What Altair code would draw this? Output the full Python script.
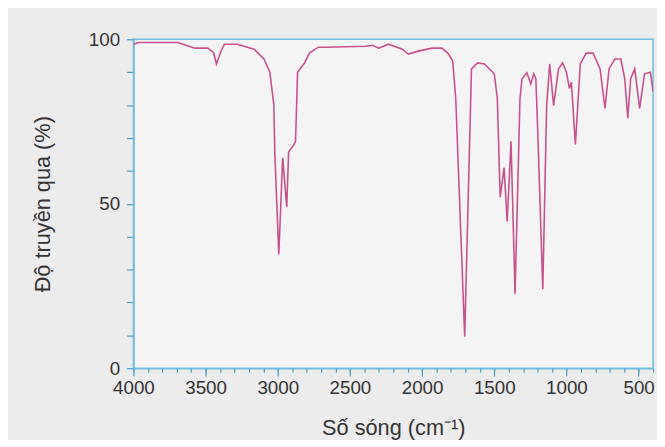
import altair as alt
import pandas as pd

# Wavenumber (cm-1) and transmittance (%)
wavenumber = [4000, 3966, 3692, 3575, 3486, 3445, 3425, 3397, 3370, 3281, 3164, 3096,
              3055, 3027, 3021, 2993, 2966, 2938, 2925, 2890, 2877, 2863, 2815, 2781,
              2719, 2664, 2390, 2342, 2301, 2233, 2137, 2096, 2027, 1932, 1863, 1822,
              1788, 1767, 1705, 1658, 1616, 1568, 1500, 1479, 1459, 1432, 1411, 1397,
              1384, 1356, 1322, 1308, 1274, 1247, 1226, 1212, 1199, 1164, 1137, 1116,
              1089, 1055, 1027, 1000, 979, 966, 938, 904, 863, 815, 767, 733, 705, 664,
              623, 596, 575, 555, 527, 493, 459, 418, 400]
transmittance = [98.5, 99.0, 99.0, 97.3, 97.3, 96.0, 92.5, 96.0, 98.5, 98.5, 97.0, 94.0,
                 90.0, 80.0, 66.0, 34.6, 64.0, 49.0, 65.7, 67.8, 69.0, 90.0, 92.8, 95.8,
                 97.6, 97.6, 97.9, 98.2, 97.3, 98.5, 97.0, 95.5, 96.4, 97.3, 97.3, 95.8,
                 93.4, 82.0, 9.6, 91.0, 92.8, 92.5, 89.5, 82.0, 52.0, 61.0, 44.6, 57.0,
                 69.0, 22.6, 82.0, 88.0, 89.8, 86.4, 89.5, 88.0, 72.3, 24.0, 80.0, 92.5,
                 79.8, 91.0, 92.8, 90.0, 85.0, 87.0, 68.0, 92.5, 95.8, 95.8, 91.0, 79.0,
                 91.0, 94.0, 94.0, 88.0, 76.0, 88.0, 91.0, 79.0, 89.5, 90.0, 84.0]

major_ticks = [4000, 3500, 3000, 2500, 2000, 1500, 1000, 500]
minor_ticks = list(range(4000, 399, -100))
y_ticks = [0, 10, 20, 30, 40, 50, 60, 70, 80, 90, 100]

df = pd.DataFrame({"wn": wavenumber, "t": transmittance})

BLUE = "#6dbde0"
TICK = "#4a9cc6"
LINE = "#c8508c"

xscale = alt.Scale(domain=[400, 4000], reverse=True, nice=False, zero=False)
yscale = alt.Scale(domain=[0, 100], nice=False)

yaxis = alt.Axis(
    values=y_ticks, format="d", labelFlush=False,
    labelExpr="datum.value % 50 === 0 ? datum.label : ''",
    tickSize=7, grid=False, title="Độ truyền qua (%)", titlePadding=34, labelPadding=7,
)

main = alt.Chart(df).mark_line(color=LINE, strokeWidth=1.6, clip=True).encode(
    x=alt.X("wn:Q", scale=xscale,
            axis=alt.Axis(values=major_ticks, format="d", labelFlush=False, orient="bottom",
                          tickSize=8, grid=False,
                          title="Số sóng (cm⁻¹)", titlePadding=20, labelPadding=3)),
    y=alt.Y("t:Q", scale=yscale, axis=yaxis),
)

minor = alt.Chart(df).mark_line(opacity=0, clip=True).encode(
    x=alt.X("wn:Q", scale=xscale,
            axis=alt.Axis(values=minor_ticks, orient="bottom", labels=False, title=None,
                          domain=False, tickSize=4, grid=False)),
    y=alt.Y("t:Q", scale=yscale, axis=yaxis),
)

chart = alt.layer(main, minor).resolve_axis(x="independent").properties(
    width=526, height=333,
    autosize=alt.AutoSizeParams(type="none"),
    padding={"left": 127, "top": 29, "right": 4, "bottom": 70},
    background="#ececec",
).configure_view(
    stroke=BLUE, strokeWidth=1.5, fill="#f4f4f4"
).configure_axis(
    domainColor=BLUE, domainWidth=1.5, tickColor=TICK, tickWidth=1.2,
    labelColor="#333333", labelFont="Liberation Sans", labelFontSize=19,
    titleColor="#333333", titleFont="Liberation Sans", titleFontSize=22,
    titleFontWeight="normal",
)

chart.save("out.html", embed_options={"renderer": "svg", "actions": False})
